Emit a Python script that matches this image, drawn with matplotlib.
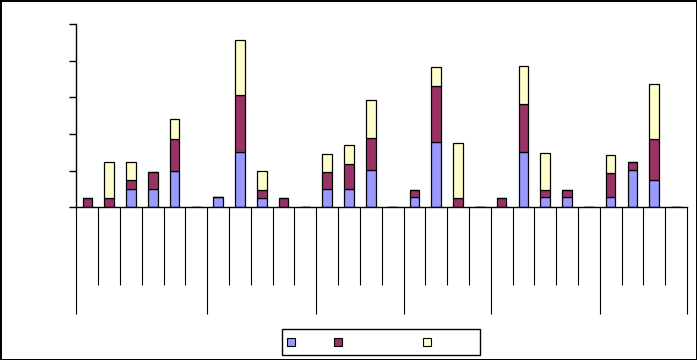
import matplotlib.pyplot as plt
from matplotlib.patches import Rectangle
import numpy as np

# valores (eixo 0-20, 28 categorias em 6 grupos)
blue = [0, 0, 2, 2, 4, 0,
        1.1, 6, 1.05, 0, 0,
        2, 2, 4.1, 0,
        1.1, 7.1, 0, 0,
        0, 6, 1.1, 1.1, 0,
        1.1, 4.1, 3, 0]
maroon = [1, 1, 1, 1.8, 3.5, 0,
          0, 6.3, 0.8, 1, 0,
          1.8, 2.7, 3.5, 0,
          0.75, 6.1, 1, 0,
          1, 5.3, 0.75, 0.75, 0,
          2.6, 0.8, 4.4, 0]
yellow = [0, 3.9, 1.9, 0, 2.1, 0,
          0, 6, 2.1, 0, 0,
          2, 2.1, 4.1, 0,
          0, 2.1, 6, 0,
          0, 4.1, 4.1, 0, 0,
          2, 0, 6, 0]
group_sizes = [6, 5, 4, 4, 5, 4]

colors = ['#9999FF', '#993366', '#FFFFCC']

fig = plt.figure(figsize=(6.97, 3.6), dpi=100)
fig.patch.set_edgecolor('black')
fig.patch.set_linewidth(2)
ax = fig.add_axes([76.4 / 697, 1 - 207.3 / 360, (687 - 76.4) / 697, (207.3 - 24) / 360])

x = np.arange(len(blue))
bottom2 = [b + m for b, m in zip(blue, maroon)]
w = 0.44
ax.bar(x, blue, width=w, color=colors[0], edgecolor='black', linewidth=0.9)
ax.bar(x, maroon, width=w, bottom=blue, color=colors[1], edgecolor='black', linewidth=0.9)
ax.bar(x, yellow, width=w, bottom=bottom2, color=colors[2], edgecolor='black', linewidth=0.9)

ax.set_xlim(-0.5, len(blue) - 0.5)
ax.set_ylim(0, 20)
ax.set_yticks(range(0, 21, 4))
ax.set_yticklabels([])
ax.tick_params(axis='y', length=5, width=1, color='black')

# linhas do eixo de categorias em dois niveis
edges = np.concatenate([[0], np.cumsum(group_sizes)]) - 0.5
inner = [i + 0.5 for i in range(-1, len(blue)) if (i + 0.5) not in edges]
ax.set_xticks(edges)
ax.set_xticks(inner, minor=True)
ax.set_xticklabels([])
ax.set_xticklabels([], minor=True)
ax.tick_params(axis='x', which='major', length=77, width=0.8, color='black')
ax.tick_params(axis='x', which='minor', length=56, width=0.8, color='black')

for s in ['top', 'right']:
    ax.spines[s].set_visible(False)
for s in ['left', 'bottom']:
    ax.spines[s].set_linewidth(1)

# legenda (sem texto visivel)
W, H = 697.0, 360.0
fig.add_artist(Rectangle((282 / W, 1 - 355 / H), 198 / W, 26 / H, transform=fig.transFigure,
                         facecolor='white', edgecolor='black', linewidth=1))
for px, c in zip([287, 334, 423], colors):
    fig.add_artist(Rectangle((px / W, 1 - 346 / H), 8 / W, 8 / H, transform=fig.transFigure,
                             facecolor=c, edgecolor='black', linewidth=0.8))

fig.savefig('out.png', dpi=100)
